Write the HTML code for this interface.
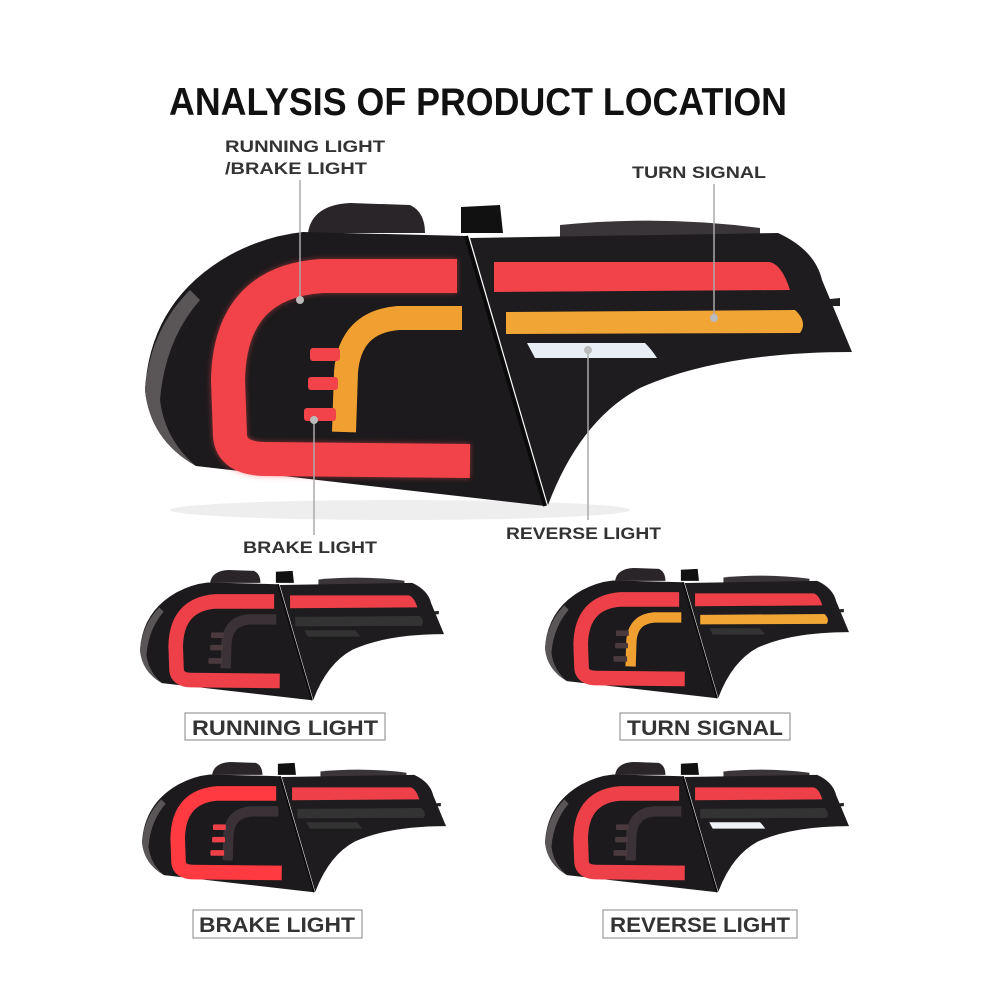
<!DOCTYPE html>
<html><head><meta charset="utf-8"><style>
html,body{margin:0;padding:0;background:#fff;}
svg{display:block;}
text{font-family:"Liberation Sans",sans-serif;}
</style></head><body>
<svg width="1000" height="1000" viewBox="0 0 1000 1000" xmlns="http://www.w3.org/2000/svg">
<defs>
<g id="H">
  <path d="M308,233 Q312,205 350,203 L410,205 Q425,212 425,233 Z" fill="#2a2528"/>
  <path d="M461,233 L461,207 L500,205 L503,233 Z" fill="#111"/>
  <path d="M560,237 L560,225 Q660,215 760,228 L760,237 Z" fill="#3a3538"/>
  <path d="M820,300 L840,298 L840,306 L822,306 Z" fill="#222"/>
  <path d="M303,232 L466,236 L545,506 L196,466 Q150,440 145,390 Q150,300 230,255 Q265,236 303,232 Z" fill="#1c1a1c"/>
  <path d="M145,390 Q150,330 190,290 L200,300 Q165,340 160,400 Q165,440 196,466 Q150,440 145,390 Z" fill="#5a5658"/>
  <path d="M470,238 L778,233 Q815,250 822,280 L852,352 Q720,352 640,388 Q580,420 548,505 Z" fill="#1e1c1e"/>
  <path d="M466,236 L545,506" stroke="#0a0a0a" stroke-width="4"/>
</g>
<g id="C"><path d="M457,276 L322,276 Q230,282 228,380 L230,436 Q232,458 264,459 L470,461" fill="none" stroke-width="34" stroke-linejoin="round"/></g>
<g id="A"><path d="M462,318 L398,318 Q350,322 346,372 L344,432" fill="none" stroke-width="24"/></g>
<g id="S"><rect x="310" y="348" width="30" height="13" rx="3"/><rect x="308" y="377" width="30" height="13" rx="3"/><rect x="304" y="408" width="32" height="13" rx="3"/></g>
<g id="R"><path d="M494,262 L770,262 Q782,265 790,290 L494,292 Z"/></g>
<g id="B"><path d="M506,312 L795,310 Q808,322 800,333 L506,334 Z"/></g>
<g id="W"><path d="M527,343 L645,343 Q652,350 657,358 L535,358 Z"/></g>
<filter id="glow" x="-20%" y="-20%" width="140%" height="140%"><feGaussianBlur stdDeviation="3"/></filter>
</defs>

<text x="478" y="115" font-size="39" font-weight="bold" text-anchor="middle" textLength="618" lengthAdjust="spacingAndGlyphs" fill="#111">ANALYSIS OF PRODUCT LOCATION</text>
<text x="225" y="152" font-size="17" font-weight="bold" fill="#333" textLength="160" lengthAdjust="spacingAndGlyphs">RUNNING LIGHT</text>
<text x="225" y="174" font-size="17" font-weight="bold" fill="#333" textLength="142" lengthAdjust="spacingAndGlyphs">/BRAKE LIGHT</text>
<text x="632" y="178" font-size="17" font-weight="bold" fill="#333" textLength="134" lengthAdjust="spacingAndGlyphs">TURN SIGNAL</text>
<text x="243" y="553" font-size="17" font-weight="bold" fill="#333" textLength="134" lengthAdjust="spacingAndGlyphs">BRAKE LIGHT</text>
<text x="506" y="539" font-size="17" font-weight="bold" fill="#333" textLength="155" lengthAdjust="spacingAndGlyphs">REVERSE LIGHT</text>

<ellipse cx="400" cy="510" rx="230" ry="10" fill="#eee"/>
<use href="#H"/>
<g stroke="#ff4a50" opacity="0.5" filter="url(#glow)"><use href="#C"/></g>
<g stroke="#f2434a"><use href="#C"/></g>
<g stroke="#f0a030"><use href="#A"/></g>
<g fill="#f2434a"><use href="#S"/><use href="#R"/></g>
<g fill="#f0a535"><use href="#B"/></g>
<g fill="#e8eef4"><use href="#W"/></g>

<g stroke="#aaa" stroke-width="1.5">
<line x1="300" y1="180" x2="300" y2="298"/>
<line x1="714" y1="184" x2="714" y2="316"/>
<line x1="314" y1="420" x2="314" y2="535"/>
<line x1="588" y1="350" x2="588" y2="520"/>
</g>
<g fill="#bbb"><circle cx="300" cy="300" r="4"/><circle cx="714" cy="318" r="4"/><circle cx="314" cy="420" r="4"/><circle cx="588" cy="350" r="4"/></g>

<g transform="translate(140,570) scale(0.43) translate(-145,-203)">
  <use href="#H"/>
  <g stroke="#ee4048"><use href="#C"/></g>
  <g stroke="#3a3236"><use href="#A"/></g>
  <g fill="#4a3a3e"><use href="#S"/></g><g fill="#ee4048"><use href="#R"/></g>
  <g fill="#333"><use href="#B"/><use href="#W"/></g>
</g>
<g transform="translate(545,568) scale(0.43) translate(-145,-203)">
  <use href="#H"/>
  <g stroke="#ee4048"><use href="#C"/></g>
  <g stroke="#f0a030"><use href="#A"/></g>
  <g fill="#4a3a3e"><use href="#S"/></g><g fill="#ee4048"><use href="#R"/></g>
  <g fill="#f0a535"><use href="#B"/></g><g fill="#333"><use href="#W"/></g>
</g>
<g transform="translate(142,762) scale(0.43) translate(-145,-203)">
  <use href="#H"/>
  <g stroke="#ff3a40"><use href="#C"/></g>
  <g stroke="#3a3236"><use href="#A"/></g>
  <g fill="#ee4048"><use href="#S"/><use href="#R"/></g>
  <g fill="#333"><use href="#B"/><use href="#W"/></g>
</g>
<g transform="translate(545,762) scale(0.43) translate(-145,-203)">
  <use href="#H"/>
  <g stroke="#ee4048"><use href="#C"/></g>
  <g stroke="#3a3236"><use href="#A"/></g>
  <g fill="#4a3a3e"><use href="#S"/></g><g fill="#ee4048"><use href="#R"/></g>
  <g fill="#333"><use href="#B"/></g><g fill="#eef2f6"><use href="#W"/></g>
</g>

<g fill="none" stroke="#999" stroke-width="1.2">
<rect x="185" y="713" width="200" height="27"/>
<rect x="620" y="713" width="170" height="27"/>
<rect x="193" y="910" width="169" height="28"/>
<rect x="603" y="910" width="194" height="28"/>
</g>
<g font-size="21" fill="#333" text-anchor="middle" font-weight="bold">
<text x="285" y="735" textLength="186" lengthAdjust="spacingAndGlyphs">RUNNING LIGHT</text>
<text x="705" y="735" textLength="156" lengthAdjust="spacingAndGlyphs">TURN SIGNAL</text>
<text x="277" y="932" textLength="156" lengthAdjust="spacingAndGlyphs">BRAKE LIGHT</text>
<text x="700" y="932" textLength="180" lengthAdjust="spacingAndGlyphs">REVERSE LIGHT</text>
</g>
</svg>
</body></html>
